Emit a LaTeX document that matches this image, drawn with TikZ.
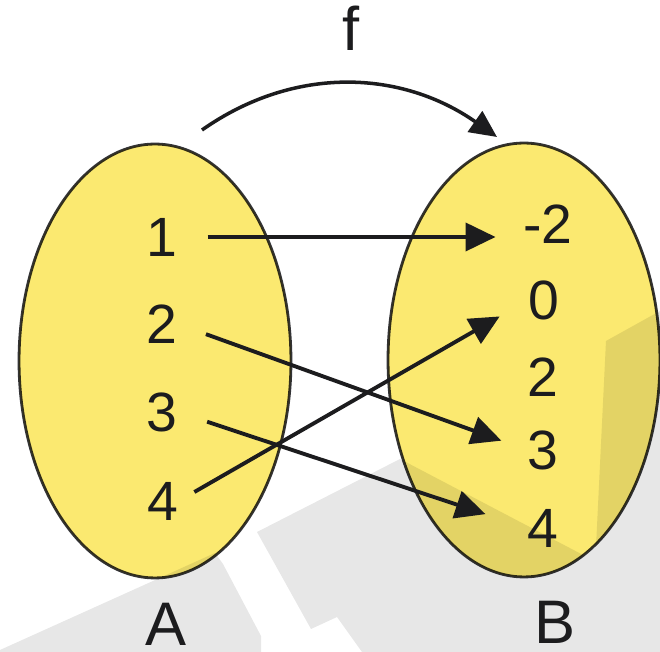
\documentclass[tikz,border=0pt]{standalone}
\usepackage{fontspec}
\setmainfont{Liberation Sans}
\definecolor{setyellow}{RGB}{251, 233, 112}
\definecolor{wmgray}{RGB}{231, 231, 231}
\definecolor{inkdark}{RGB}{28, 28, 30}
\usetikzlibrary{arrows.meta, shapes.geometric}
\tikzset{
	setoval/.style={ellipse, draw=inkdark!90, fill=setyellow, line width=1.6pt, minimum width=5.44cm, minimum height=8.68cm, blend mode=multiply},
	elem/.style={inner sep=0pt, text=inkdark, font=\fontsize{31.5}{36}\selectfont},
	setname/.style={inner sep=0pt, text=inkdark, font=\fontsize{35}{40}\selectfont},
	maparrow/.style={-{Triangle[length=6mm, width=5.6mm]}, line width=2.2pt, draw=inkdark, shorten <=0.6cm, shorten >=0.55cm},
	fmap/.style={-{Triangle[length=5.4mm, width=5mm]}, line width=2pt, draw=inkdark},
}

\begin{document}
\begin{tikzpicture}[x=0.02cm, y=0.02cm]
		\useasboundingbox (0,0) rectangle (660,652);
		% grey shapes behind the sets
		\fill[wmgray] (0,2) -- (215,99) -- (223,88) -- (261,16) -- (261,0) -- (0,0) -- cycle;
		\fill[wmgray] (257,120) -- (400,193) -- (585,96) -- (596,105) -- (606,311) -- (660,341) -- (660,0) -- (362,0) -- (337,35) -- (311,23) -- cycle;
		% the two sets
		\node[setoval] (setA) at (155,291) {};
		\node[setoval] (setB) at (524,292) {};
		\node[elem] (a1) at (162,415) {1};
		\node[elem] (a2) at (162,328) {2};
		\node[elem] (a3) at (162,240) {3};
		\node[elem] (a4) at (163,151) {4};
		\node[elem] (bm2) at (548,428) {-2};
		\node[elem] (b0) at (544,352) {0};
		\node[elem] (b2) at (543,275) {2};
		\node[elem] (b3) at (543,202) {3};
		\node[elem] (b4) at (543,124) {4};
		\node[setname] (nameA) at (166,28) {A};
		\node[setname] (nameB) at (555,30) {B};
		\node[setname] (fname) at (351,624) {f};
		% arrows
		\coordinate (fstart) at (202,522);
		\coordinate (fend) at (497,515);
		\draw[fmap] (fstart) .. controls (296,588) and (403,581) .. (fend);
		\draw[maparrow] (a1.east) -- (a1.east -| bm2.west);
		\draw[maparrow] (a2.east) -- (b3.west);
		\draw[maparrow, shorten <=0.62cm, shorten >=0.88cm] (a3.east) -- (b4.west);
		\draw[maparrow, shorten <=0.36cm, shorten >=0.66cm] (a4.east) -- (b0.west);
	\end{tikzpicture}
\end{document}
